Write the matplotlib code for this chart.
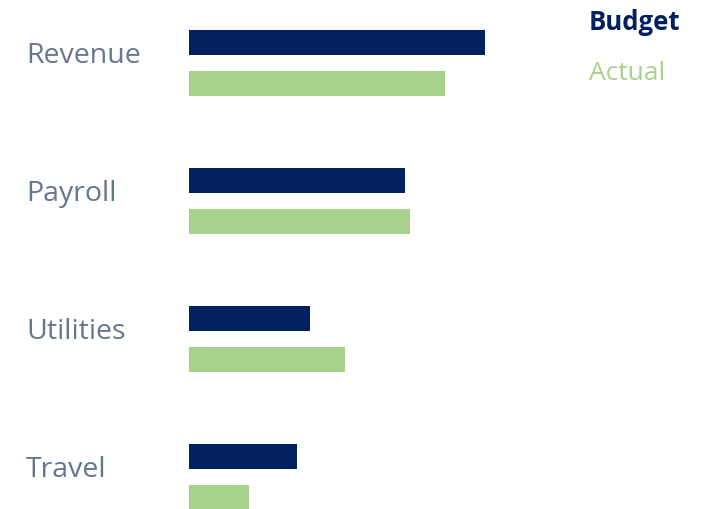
import numpy as np
import matplotlib.pyplot as plt

categories = ['Revenue', 'Payroll', 'Utilities', 'Travel']
budget = [296, 216, 121, 108]
actual = [256, 221, 156, 60]

navy = '#002060'
green = '#a9d18e'
label_color = '#66768f'

W, H = 708, 509
fig = plt.figure(figsize=(W / 100, H / 100), dpi=100)
# axes in pixel units, bars start at x=189
ax = fig.add_axes([189 / W, 0, 1 - 189 / W, 1])
ax.set_xlim(0, W - 189)
ax.set_ylim(H, 0)
ax.axis('off')

idx = np.arange(len(categories))
y_budget = 42 + 138 * idx
y_actual = y_budget + 41.5

ax.barh(y_budget, budget, height=25, color=navy)
ax.barh(y_actual, actual, height=25, color=green)

for i, cat in enumerate(categories):
    fig.text(26 / W, 1 - (y_budget[i] + 14) / H, cat, ha='left', va='center',
             fontsize=20.5, color=label_color, family='Open Sans')

fig.text(589 / W, 1 - 23 / H, 'Budget', ha='left', va='center', fontsize=18.5,
         color=navy, fontweight='bold', family='Open Sans')
fig.text(589 / W, 1 - 74 / H, 'Actual', ha='left', va='center', fontsize=19,
         color=green, family='Open Sans')

fig.savefig('out.png', dpi=100)
